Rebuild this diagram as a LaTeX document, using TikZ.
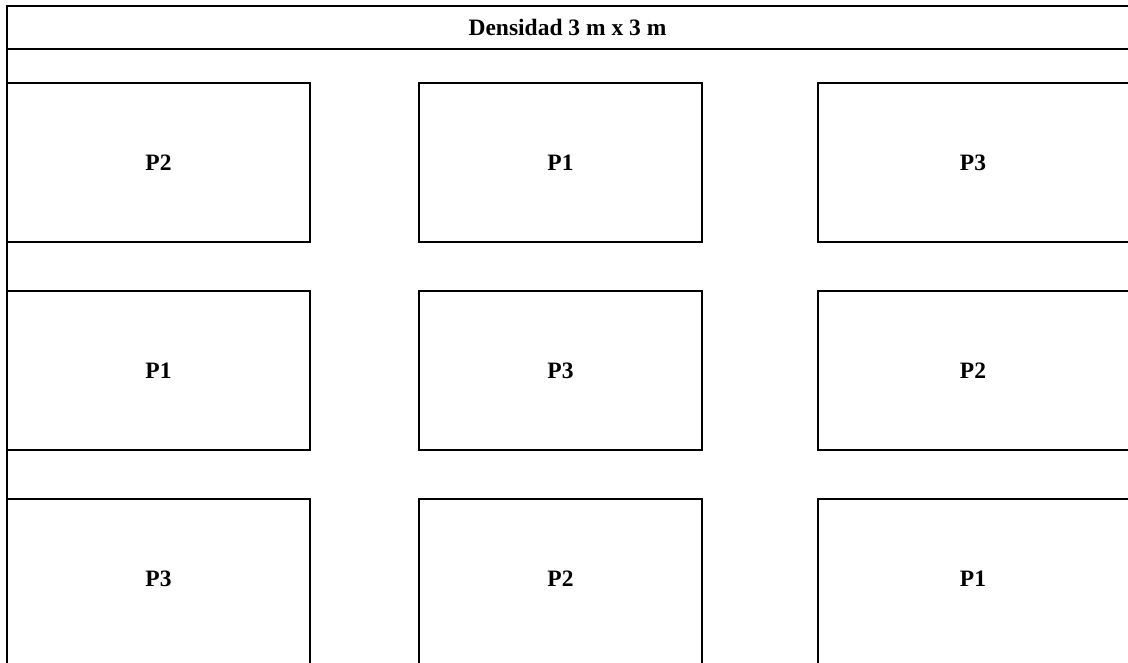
\documentclass[tikz,border=0pt]{standalone}
\usepackage{fontspec}
\setmainfont{Liberation Serif}
\begin{document}
\begin{tikzpicture}[x=1pt,y=-1pt,
  frameline/.style={line width=2.4pt,line join=miter},
  boxline/.style={line width=2pt,line join=miter},
  lbl/.style={font=\fontsize{23.5}{28}\selectfont\bfseries},
  cellA/.style={lbl,inner sep=0pt,minimum width=303pt,minimum height=159pt},
  cellB/.style={lbl,inner sep=0pt,minimum width=283pt,minimum height=159pt},
  cellC/.style={lbl,inner sep=0pt,minimum width=310pt,minimum height=159pt}]
\useasboundingbox (0,0) rectangle (1128,662);
\clip (0,0) rectangle (1128,662);

% outer frame and header
\draw[frameline] (1140,6) -- (7,6) -- (7,680);
\draw[line width=2.6pt] (7,49) -- (1140,49);
\node[lbl] (title) at (567.5,27.5) {Densidad 3 m x 3 m};

% plots, row by row
\node[cellA] (c11) at (158.5,162.5) {P2};
\node[cellB] (c12) at (560.5,162.5) {P1};
\node[cellC] (c13) at (973,162.5) {P3};
\node[cellA] (c21) at (158.5,370.5) {P1};
\node[cellB] (c22) at (560.5,370.5) {P3};
\node[cellC] (c23) at (973,370.5) {P2};
\node[cellA] (c31) at (158.5,578.5) {P3};
\node[cellB] (c32) at (560.5,578.5) {P2};
\node[cellC] (c33) at (973,578.5) {P1};

% closed plots
\foreach \n in {c11,c12,c21,c22}
  \draw[boxline] (\n.south west) rectangle (\n.north east);
% plots running past the right edge
\foreach \n in {c13,c23}
  \draw[boxline] ([xshift=12pt]\n.north east) -- (\n.north west)
    -- (\n.south west) -- ([xshift=12pt]\n.south east);
% plots running past the bottom edge
\foreach \n in {c31,c32}
  \draw[boxline] ([yshift=-20pt]\n.south west) -- (\n.north west)
    -- (\n.north east) -- ([yshift=-20pt]\n.south east);
\draw[boxline] ([yshift=-20pt]c33.south west) -- (c33.north west)
  -- ([xshift=12pt]c33.north east);
\end{tikzpicture}
\end{document}
